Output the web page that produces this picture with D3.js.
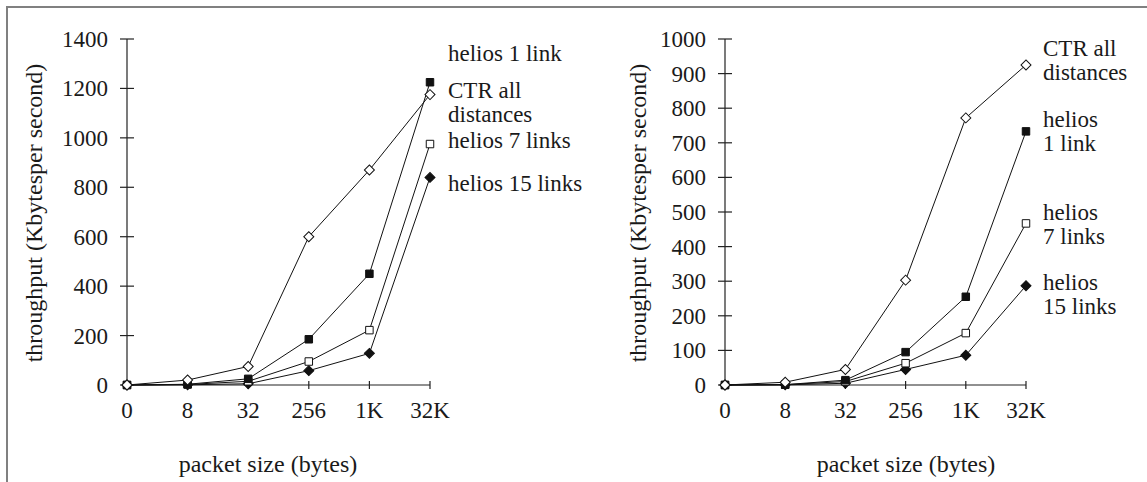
<!DOCTYPE html>
<html>
<head>
<meta charset="utf-8">
<script src="https://cdn.jsdelivr.net/npm/d3@7"></script>
</head>
<body style="margin:0">
<script>
// packet sizes on the x axis
const sizes = ["0", "8", "32", "256", "1K", "32K"];

// left panel, Kbytes per second
const leftCTR      = [0, 20, 75, 600, 870, 1175];
const leftHelios1  = [0, 3, 25, 185, 450, 1225];
const leftHelios7  = [0, 2, 15, 95, 222, 975];
const leftHelios15 = [0, 1, 5, 58, 128, 840];
const leftYTicks   = [0, 200, 400, 600, 800, 1000, 1200, 1400];

// right panel, Kbytes per second
const rightCTR      = [0, 8, 45, 303, 772, 925];
const rightHelios1  = [0, 1, 14, 95, 255, 733];
const rightHelios7  = [0, 1, 10, 63, 150, 467];
const rightHelios15 = [0, 0.5, 5, 45, 86, 287];
const rightYTicks   = [0, 100, 200, 300, 400, 500, 600, 700, 800, 900, 1000];

const leftLabels = [["helios 1 link"], ["CTR all", "distances"], ["helios 7 links"], ["helios 15 links"]];
const rightLabels = [["CTR all", "distances"], ["helios", "1 link"], ["helios", "7 links"], ["helios", "15 links"]];

const W = 1147, H = 482;
const fontSize = 23;

const svg = d3.select("body").append("svg")
    .attr("width", W)
    .attr("height", H)
    .style("display", "block");

// grey frame on top and left
svg.append("path")
    .attr("d", `M7,${H}V7H${W}`)
    .attr("fill", "none")
    .attr("stroke", "#808080")
    .attr("stroke-width", 2);

const markerStyles = {
    ctr:  { shape: "diamond", fill: "#fff" },
    h1:   { shape: "square", fill: "#111" },
    h7:   { shape: "square", fill: "#fff" },
    h15:  { shape: "diamond", fill: "#111" }
};

function txt(sel, size) {
    return sel
        .attr("font-family", "Liberation Serif")
        .style("font-family", d => `"Liberation Serif"`)
        .style("font-size", size + "px")
        .attr("fill", "#1a1a1a");
}

function drawPanel(p) {
    const x = d3.scalePoint().domain(sizes).range([p.x0, p.x1]);
    const y = d3.scaleLinear().domain([0, p.yMax]).range([385, 39]);

    const g = svg.append("g");

    // y axis
    const yAxis = g.append("g").attr("transform", `translate(${p.x0},0)`);
    yAxis.append("line")
        .attr("y1", y(0)).attr("y2", y(p.yMax))
        .attr("stroke", "#222").attr("stroke-width", 1.2);
    const yt = yAxis.selectAll(".yt").data(p.yTicks).join("g")
        .attr("transform", d => `translate(0,${y(d)})`);
    yt.append("line").attr("x1", -7).attr("x2", 7).attr("stroke", "#222").attr("stroke-width", 1.2);
    txt(yt.append("text"), fontSize)
        .attr("x", -19).attr("dy", "0.35em")
        .attr("text-anchor", "end")
        .text(d => d);

    // x axis
    const xAxis = g.append("g").attr("transform", `translate(0,${y(0)})`);
    xAxis.append("line")
        .attr("x1", p.x0).attr("x2", p.x1)
        .attr("stroke", "#222").attr("stroke-width", 1.2);
    const xt = xAxis.selectAll(".xt").data(sizes).join("g")
        .attr("transform", d => `translate(${x(d)},0)`);
    xt.append("line").attr("y1", -4).attr("y2", 4).attr("stroke", "#222").attr("stroke-width", 1.2);
    txt(xt.append("text"), fontSize)
        .attr("y", 33)
        .attr("text-anchor", "middle")
        .text(d => d);

    // axis titles
    txt(g.append("text"), 24)
        .attr("transform", `translate(${p.yTitleX},213) rotate(-90)`)
        .attr("dy", "0.35em")
        .attr("text-anchor", "middle")
        .text("throughput (Kbytesper second)");
    txt(g.append("text"), 24)
        .attr("x", p.xTitleX).attr("y", 472)
        .attr("text-anchor", "middle")
        .text("packet size (bytes)");

    const line = d3.line().x((d, i) => x(sizes[i])).y(d => y(d));

    p.series.forEach(s => {
        g.append("path")
            .datum(s.values)
            .attr("d", line)
            .attr("fill", "none")
            .attr("stroke", "#111")
            .attr("stroke-width", 1);
    });

    // markers, CTR drawn last so its diamonds sit on top
    p.series.slice().reverse().forEach(s => {
        const st = markerStyles[s.key];
        const sym = d3.symbol().type(d3.symbolSquare).size(st.shape === "diamond" ? 50 : 56);
        g.selectAll(null).data(s.values).join("path")
            .attr("d", sym)
            .attr("transform", (d, i) => `translate(${x(sizes[i])},${y(d)})` + (st.shape === "diamond" ? " rotate(45)" : ""))
            .attr("fill", st.fill)
            .attr("stroke", "#111")
            .attr("stroke-width", 1);
    });

    // series labels
    p.labels.forEach((lines, i) => {
        lines.forEach((t, j) => {
            txt(g.append("text"), fontSize)
                .attr("x", p.x1 + p.labelDx)
                .attr("y", p.labelY[i] + j * 24)
                .text(t);
        });
    });
}

drawPanel({
    x0: 127, x1: 430, yMax: 1400, yTicks: leftYTicks,
    yTitleX: 34, xTitleX: 268, labelDx: 18,
    series: [
        { key: "ctr", values: leftCTR },
        { key: "h1", values: leftHelios1 },
        { key: "h7", values: leftHelios7 },
        { key: "h15", values: leftHelios15 }
    ],
    labels: leftLabels,
    labelY: [61, 98, 148, 191]
});

drawPanel({
    x0: 725, x1: 1026, yMax: 1000, yTicks: rightYTicks,
    yTitleX: 638, xTitleX: 906, labelDx: 17,
    series: [
        { key: "ctr", values: rightCTR },
        { key: "h1", values: rightHelios1 },
        { key: "h7", values: rightHelios7 },
        { key: "h15", values: rightHelios15 }
    ],
    labels: rightLabels,
    labelY: [56, 127, 220, 290]
});
</script>
</body>
</html>
